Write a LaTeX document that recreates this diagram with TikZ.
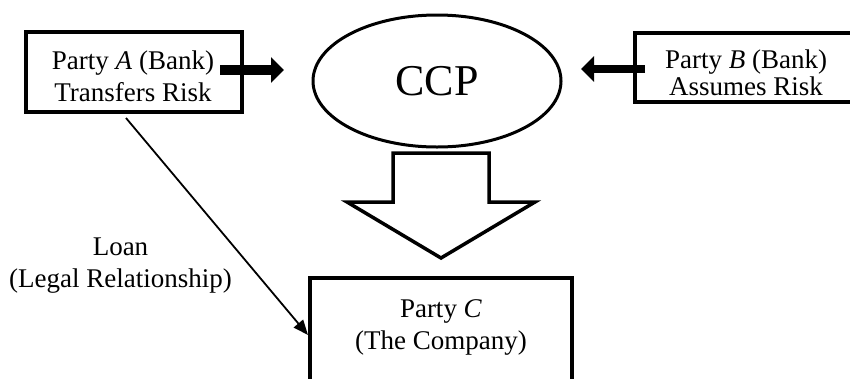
\documentclass[tikz,border=0pt]{standalone}
\usepackage{fontspec}
\setmainfont{Liberation Serif}
\usetikzlibrary{arrows.meta,shapes.geometric}
\begin{document}
\begin{tikzpicture}[x=1pt,y=-1pt,
  box/.style={draw,line width=3.5pt,inner sep=0pt},
  txt/.style={align=center,inner sep=0pt,font=\fontsize{27}{32}\selectfont},
  fat/.style={line width=9.5pt,-{Triangle[length=13pt,width=25pt]}},
  thin/.style={line width=1.8pt,-{Triangle[length=15pt,width=12pt]}}]
\useasboundingbox (0,0) rectangle (850,378);
% boxes
\node[box,minimum width=216pt,minimum height=80pt] (A) at (134,72) {};
\node[txt] (At) at (133,76) {Party \textit{A} (Bank)\\Transfers Risk};
\node[box,minimum width=222pt,minimum height=69pt] (B) at (746,67.5) {};
\node[txt,font=\fontsize{27}{27}\selectfont] (Bt) at (746,73) {Party \textit{B} (Bank)\\Assumes Risk};
\node[box,minimum width=262pt,minimum height=130pt,anchor=north] (C) at (441,276) {};
\node[txt] (Ct) at (441,327) {Party \textit{C}\\(The Company)};
% CCP
\node[draw,ellipse,line width=3pt,minimum width=248pt,minimum height=132pt,inner sep=0pt,
  font=\fontsize{44}{44}\selectfont] (CCP) at (437,81) {\raisebox{1pt}{CCP}};
% thick arrows
\coordinate (a1) at (220,70);
\coordinate (a2) at (284,70);
\draw[fat] (a1) -- (a2);
\coordinate (b1) at (645,69);
\coordinate (b2) at (581,69);
\draw[fat,line width=8.5pt] (b1) -- (b2);
% big hollow arrow
\draw[line width=3.5pt,line join=miter] (393,153) -- (489,153) -- (489,202) -- (535,202)
  -- (441,258) -- (347,202) -- (393,202) -- cycle;
% loan line
\coordinate (l1) at (126,118);
\coordinate (l2) at (308,335);
\draw[thin] (l1) -- (l2);
\node[txt] (loan) at (120.5,266) {Loan\\(Legal Relationship)};
\end{tikzpicture}
\end{document}
